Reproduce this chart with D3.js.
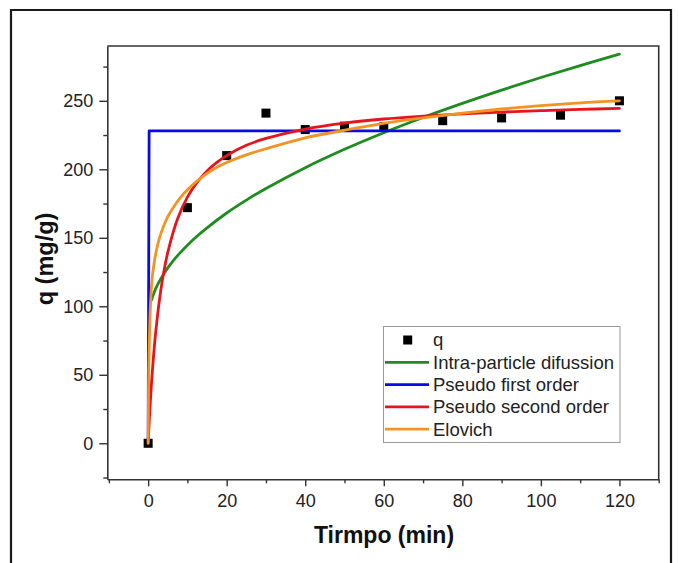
<!DOCTYPE html>
<html>
<head>
<meta charset="utf-8">
<script src="https://cdn.jsdelivr.net/npm/d3@7/dist/d3.min.js"></script>
<style>
  html, body { margin: 0; padding: 0; background: #fff; }
  svg { display: block; }
</style>
</head>
<body>
<svg id="chart" width="678" height="563"></svg>
<script>
// ---- Data ----
const expTime = [0, 10, 20, 30, 40, 50, 60, 75, 90, 105, 120];
const expQ    = [0, 172, 210, 241, 229, 231.5, 231, 235.5, 237.5, 239.5, 250];

const intraTime = [0.85, 1.5, 2.5, 4, 6, 8, 10, 12.5, 15, 20, 25, 30, 40, 50, 60, 70, 80, 90, 100, 110, 120];
const intraQ    = [104.5, 109.9, 116.3, 123.8, 131.8, 138.6, 144.6, 151.3, 157.3, 168.1, 177.5, 186, 201.2, 214.6, 226.7, 237.8, 248.1, 257.8, 267, 275.7, 284.1];

const pfoTime = [0, 0.25, 120];
const pfoQ    = [0, 228, 228];

const psoTime = [0, 0.25, 0.5, 1, 1.5, 2, 3, 4, 5, 7.5, 10, 12.5, 15, 17.5, 20, 25, 30, 40, 50, 60, 70, 80, 90, 100, 110, 120];
const psoQ    = [0, 14.6, 27.7, 49.9, 68.1, 83.2, 107.2, 125.3, 139.4, 163.9, 179.7, 190.6, 198.8, 205, 210, 217.5, 222.5, 229.4, 233.7, 236.7, 238.8, 240.5, 241.8, 242.8, 243.7, 244.4];

const eloTime = [0, 0.1, 0.2, 0.35, 0.5, 0.75, 1, 1.5, 2, 3, 4, 5, 6.5, 8, 10, 12.5, 15, 17.5, 20, 25, 30, 40, 50, 60, 70, 80, 90, 100, 110, 120];
const eloQ    = [0, 40, 60, 80, 95, 110, 120, 131, 139.5, 151, 159, 165.5, 172.5, 178.5, 185, 191.5, 197, 201.5, 205, 210.5, 215, 223, 228.5, 233.5, 237.5, 241, 244, 246.5, 248.5, 250];

const xMajorTicks = [0, 20, 40, 60, 80, 100, 120];
const xMinorTicks = [-10, 10, 30, 50, 70, 90, 110, 130];
const yMajorTicks = [0, 50, 100, 150, 200, 250];
const yMinorTicks = [-25, 25, 75, 125, 175, 225, 275];

const seriesNames  = ["Intra-particle difussion", "Pseudo first order", "Pseudo second order", "Elovich"];
const seriesColors = ["#1e8c1e", "#0a0ae6", "#e8141c", "#f39422"];

const xTitle = "Tirmpo (min)";
const yTitle = "q (mg/g)";
const markerName = "q";

// ---- Layout ----
const plot = { left: 107.3, right: 658.7, top: 46, bottom: 479.3 };
const svg = d3.select("#chart");
const FONT = "'Liberation Sans', Arial, sans-serif";

// Outer frame
svg.append("path")
  .attr("d", "M11,600 L11,10 L671,10 L671,600")
  .attr("fill", "none").attr("stroke", "#1a1a1a").attr("stroke-width", 2.2);

const x = d3.scaleLinear().domain([-10.4, 130]).range([plot.left, plot.right]);
const y = d3.scaleLinear().domain([-26.3, 290]).range([plot.bottom, plot.top]);

// clip for curves
svg.append("defs").append("clipPath").attr("id", "plotclip")
  .append("rect").attr("x", plot.left).attr("y", plot.top)
  .attr("width", plot.right - plot.left).attr("height", plot.bottom - plot.top);

// Data squares (drawn below the lines)
const sq = 9;
svg.append("g").attr("class", "points").selectAll("rect")
  .data(expTime.map((t, i) => [t, expQ[i]]))
  .join("rect")
  .attr("x", d => x(d[0]) - sq / 2)
  .attr("y", d => y(d[1]) - sq / 2)
  .attr("width", sq).attr("height", sq)
  .attr("fill", "#000");

// Curves
const curves = [
  { t: intraTime, q: intraQ, curve: d3.curveCatmullRom.alpha(0.5) },
  { t: pfoTime, q: pfoQ, curve: d3.curveLinear },
  { t: psoTime, q: psoQ, curve: d3.curveCatmullRom.alpha(0.5) },
  { t: eloTime, q: eloQ, curve: d3.curveCatmullRom.alpha(0.5) }
];
const gLines = svg.append("g").attr("clip-path", "url(#plotclip)");
curves.forEach((c, i) => {
  const ln = d3.line().x(d => x(d[0])).y(d => y(d[1])).curve(c.curve);
  gLines.append("path")
    .datum(c.t.map((t, j) => [t, c.q[j]]))
    .attr("fill", "none")
    .attr("stroke", seriesColors[i])
    .attr("stroke-width", 2.8)
    .attr("stroke-linejoin", "round")
    .attr("stroke-linecap", "round")
    .attr("d", ln);
});

// Plot frame (top and right)
svg.append("path")
  .attr("d", `M${plot.left},${plot.top} L${plot.right},${plot.top} L${plot.right},${plot.bottom}`)
  .attr("fill", "none").attr("stroke", "#333").attr("stroke-width", 1.6);

// Axes
function styleAxis(g) {
  g.selectAll("path.domain").attr("stroke", "#333").attr("stroke-width", 1.6);
  g.selectAll(".tick line").attr("stroke", "#333").attr("stroke-width", 1.4);
  g.selectAll(".tick text").attr("fill", "#222").attr("font-family", FONT).attr("font-size", 18);
}

const xAxisMajor = svg.append("g").attr("transform", `translate(0,${plot.bottom})`)
  .call(d3.axisBottom(x).tickValues(xMajorTicks).tickSize(7).tickSizeOuter(0).tickPadding(8).tickFormat(d3.format("d")));
styleAxis(xAxisMajor);
const xAxisMinor = svg.append("g").attr("transform", `translate(0,${plot.bottom})`)
  .call(d3.axisBottom(x).tickValues(xMinorTicks).tickSize(4).tickSizeOuter(0).tickFormat(""));
styleAxis(xAxisMinor);
xAxisMinor.select("path.domain").remove();

const yAxisMajor = svg.append("g").attr("transform", `translate(${plot.left},0)`)
  .call(d3.axisLeft(y).tickValues(yMajorTicks).tickSize(8).tickSizeOuter(0).tickPadding(6).tickFormat(d3.format("d")));
styleAxis(yAxisMajor);
const yAxisMinor = svg.append("g").attr("transform", `translate(${plot.left},0)`)
  .call(d3.axisLeft(y).tickValues(yMinorTicks).tickSize(4).tickSizeOuter(0).tickFormat(""));
styleAxis(yAxisMinor);
yAxisMinor.select("path.domain").remove();

// Axis titles
svg.append("text")
  .attr("x", 384).attr("y", 543)
  .attr("text-anchor", "middle")
  .attr("font-family", FONT).attr("font-weight", "bold").attr("font-size", 23)
  .attr("fill", "#111")
  .text(xTitle);

svg.append("text")
  .attr("transform", "translate(53,259) rotate(-90)")
  .attr("text-anchor", "middle")
  .attr("font-family", FONT).attr("font-weight", "bold").attr("font-size", 23.5)
  .attr("fill", "#111")
  .text(yTitle);

// Legend
const lg = svg.append("g");
lg.append("rect")
  .attr("x", 383.5).attr("y", 326.5).attr("width", 236.5).attr("height", 116)
  .attr("fill", "#fff").attr("stroke", "#999").attr("stroke-width", 1);
const rowY = [340, 362.3, 384.6, 406.9, 429.2];
lg.append("rect").attr("x", 407.7 - 4.5).attr("y", rowY[0] - 4.5).attr("width", 9).attr("height", 9).attr("fill", "#000");
lg.append("text").attr("x", 433).attr("y", rowY[0]).attr("dy", "0.35em")
  .attr("font-family", FONT).attr("font-size", 18.5).attr("fill", "#222").text(markerName);
seriesNames.forEach((name, i) => {
  const yy = rowY[i + 1];
  lg.append("line").attr("x1", 385).attr("x2", 429).attr("y1", yy).attr("y2", yy)
    .attr("stroke", seriesColors[i]).attr("stroke-width", 2.8);
  lg.append("text").attr("x", 433).attr("y", yy).attr("dy", "0.35em")
    .attr("font-family", FONT).attr("font-size", 18.5).attr("fill", "#222").text(name);
});
</script>
</body>
</html>
